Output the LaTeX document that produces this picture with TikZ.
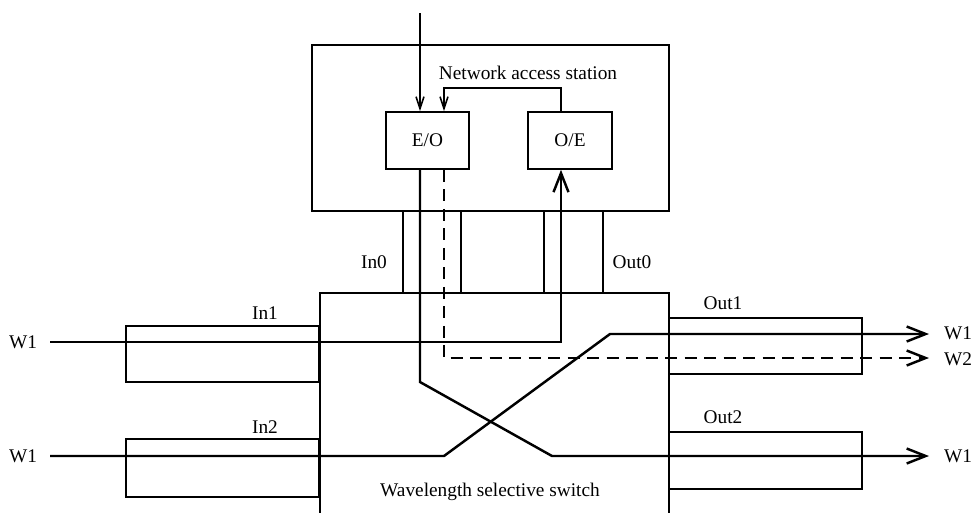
\documentclass[tikz,border=0pt]{standalone}
\usepackage{fontspec}
\setmainfont{Liberation Serif}
\usepackage{tikz}
\usetikzlibrary{arrows.meta, positioning, calc}

\begin{document}
\begin{tikzpicture}[
    x=0.02cm, y=-0.02cm,
    font=\fontsize{11}{13}\selectfont,
    box/.style={rectangle, draw, line width=0.9pt, inner sep=0pt, align=center},
    port/.style={rectangle, draw, line width=0.9pt, inner sep=0pt, minimum width=3.86cm},
    pipe/.style={line width=0.9pt},
    fibre/.style={line width=1.4pt},
    sig/.style={-{Straight Barb[length=2.4mm, width=1.6mm]}, line width=0.9pt},
    optarrow/.style={-{Straight Barb[length=3.8mm, width=3mm]}},
    lbl/.style={inner sep=1pt}
]
\clip (0,0) rectangle (975,512);

% station and switch
\node[box, minimum width=7.14cm, minimum height=3.32cm] (station) at (490.5,128) {};
\node[lbl] (nas) at (528,73) {Network access station};
\node[box, minimum width=1.66cm, minimum height=1.14cm] (eo) at (427.5,140.5) {E/O};
\node[box, minimum width=1.68cm, minimum height=1.14cm] (oe) at (570,140.5) {O/E};
\node[box, minimum width=6.98cm, minimum height=5.0cm] (switch) at (494.5,418) {};
\node[lbl] (wss) at (490,492) {Wavelength selective switch};

% ports
\node[port, minimum height=1.12cm] (in1) at (222.5,354) {};
\node[port, minimum height=1.16cm] (in2) at (222.5,468) {};
\node[port, minimum height=1.12cm] (out1) at (765.5,346) {};
\node[port, minimum height=1.14cm] (out2) at (765.5,460.5) {};
\node[lbl] (in1l) at (265,313) {In1};
\node[lbl] (in2l) at (265,427) {In2};
\node[lbl] (out1l) at (723,303) {Out1};
\node[lbl] (out2l) at (723,417) {Out2};
\node[lbl] (in0l) at (374,262) {In0};
\node[lbl] (out0l) at (632,262) {Out0};

% local ports between station and switch
\foreach \px in {403,461,544,603}
  \draw[pipe] (\px,0 |- station.south) -- (\px,0 |- switch.north);

% wavelength labels
\node[lbl, anchor=west] (w1a) at (7,342) {W1};
\node[lbl, anchor=west] (w1b) at (7,456) {W1};
\node[lbl, anchor=west] (w1c) at (942,333) {W1};
\node[lbl, anchor=west] (w2c) at (942,359) {W2};
\node[lbl, anchor=west] (w1d) at (942,456) {W1};

\coordinate (src) at (420,13);
\coordinate (colA) at (420,0);
\coordinate (colB) at (444,0);
\coordinate (colC) at (561,0);
\coordinate (in1src) at (50,342);
\coordinate (in2src) at (50,456);
\coordinate (tip1) at (929,334);
\coordinate (tip2) at (929,358);
\coordinate (tip3) at (929,456);

\draw[sig] (src) -- (src |- eo.north);
\draw[sig] (colC |- oe.north) -- (colC |- 0,88) -| (colB |- eo.north);

\draw[fibre, optarrow] (colA |- eo.south) -- (420,382) -- (552,456) -- (tip3);
\draw[fibre, optarrow, dash pattern=on 2.4mm off 1.5mm] (colB |- eo.south) |- (tip2);
\draw[fibre, optarrow] (in1src) -- (colC |- in1src) -- (colC |- oe.south);
\draw[fibre, optarrow] (in2src) -- (444,456) -- (610,334) -- (tip1);
\end{tikzpicture}
\end{document}
